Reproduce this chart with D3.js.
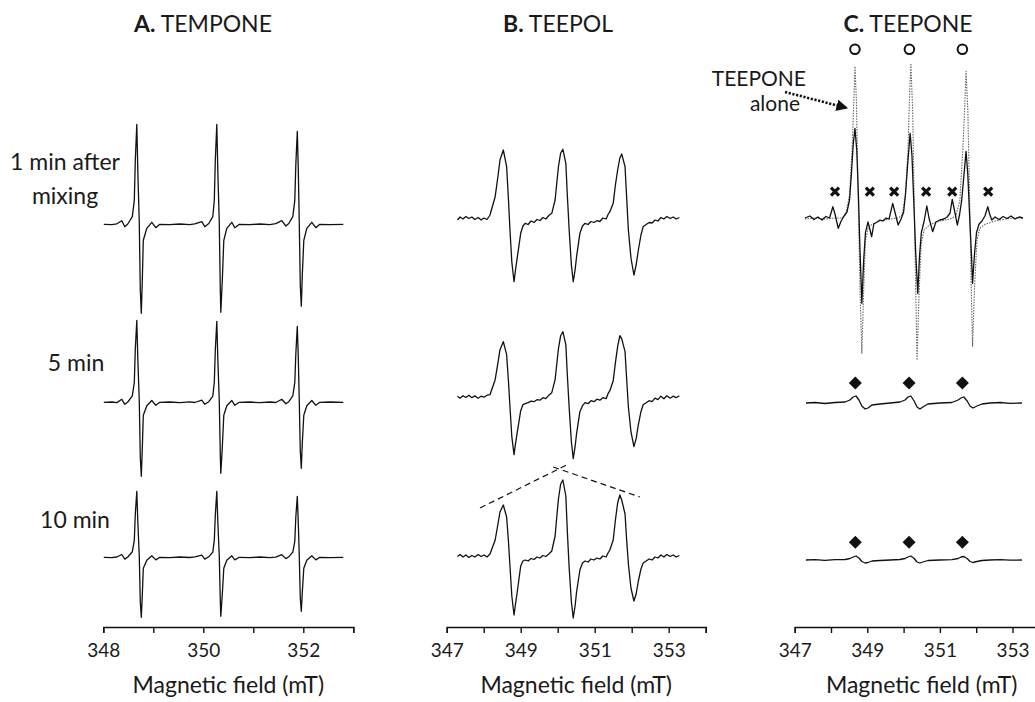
<!DOCTYPE html>
<html>
<head>
<meta charset="utf-8">
<script src="https://cdn.jsdelivr.net/npm/d3@7"></script>
<style>
  body { margin: 0; background: #fff; }
  text { font-family: Lato, "Open Sans", sans-serif; fill: #1a1a1a; }
</style>
</head>
<body>
<svg id="epr" width="1035" height="702"></svg>
<script>
//// data (field in mT, intensity in a.u.)

// panel A : TEMPONE, shared field sampling
var fieldA = [348.01,348.17,348.27,348.37,348.43,348.49,348.58,348.62,348.64,348.67,348.69,348.72,348.74,348.76,348.78,348.80,348.87,348.97,349.05,349.13,
  349.33,349.53,349.73,349.83,
  349.97,350.03,350.11,350.19,350.22,350.24,350.27,350.29,350.32,350.34,350.35,350.38,350.41,350.47,350.57,350.63,350.72,
  350.93,351.13,351.33,351.45,
  351.57,351.65,351.71,351.79,351.83,351.85,351.88,351.90,351.92,351.94,351.96,351.98,352.01,352.07,352.17,352.25,352.33,
  352.53,352.80];
var tempone1 = [0,-0.3,0.5, 3.6,-2.4,0.3,7.6,24,64,100,54,0,-66,-89,-56,-16,-4,2,-3.4,0,
  -0.4,0.3,-0.3,0.5,
  2.6,-2.4,0.8,7.6,24,64,100,54,0,-66,-88,-56,-16,-4,2,-3.4,0,
  -0.4,0.3,-0.3,0.6,
  3.6,-1.7,0.8,7.6,24,59,93,54,0,-61,-82,-51,-16,-4,2,-3.4,0,
  -0.4,0];
var tempone5 = [0,0.3,-0.3, 3,-2,0.3,6.5,20,53,82,44,0,-55,-74,-46,-13,-3.5,1.8,-3,0,
  0.3,-0.3,0.4,-0.2,
  2.2,-2,0.6,6.2,20,52,81,44,0,-53,-71,-45,-13,-3.5,1.8,-3,0,
  0.3,-0.4,0.3,-0.2,
  3,-1.5,0.6,6.5,20,48,76,44,0,-49,-66,-41,-13,-3.5,1.8,-3,0,
  0.3,0];
var tempone10 = [0,-0.3,0.3, 2.8,-1.8,0.3,5.5,17,43,66,36,0,-45,-60,-38,-11,-3,1.5,-2.6,0,
  -0.3,0.3,-0.2,0.4,
  2.2,-1.8,0.5,5.2,17,42,66,36,0,-44,-59,-37,-11,-3,1.5,-2.6,0,
  -0.3,0.3,-0.3,0.2,
  2.6,-1.3,0.5,5.2,16,40,61,34,0,-41,-54,-35,-11,-3,1.5,-2.6,0,
  -0.3,0];

// panel B : TEEPOL
var fieldB = [347.29,347.36,347.44,347.52,347.60,347.68,347.76,347.85,347.93,348.01,348.09,348.17,
  348.31,348.39,348.44,348.53,348.62,348.67,348.71,348.76,348.82,348.86,348.91,349.00,349.06,349.12,
  349.20,349.28,349.36,349.44,349.52,349.60,349.68,349.76,
  349.84,349.93,349.97,350.02,350.08,350.14,350.22,350.26,350.31,350.37,350.42,350.47,350.51,350.60,350.67,350.74,
  350.82,350.90,350.98,351.06,351.14,351.22,351.31,
  351.36,351.41,351.50,351.56,351.62,351.68,351.73,351.82,351.86,351.91,351.98,352.06,352.12,352.18,352.25,352.31,
  352.39,352.47,352.55,352.63,352.71,352.79,352.87,352.95,353.04,353.12,353.20,353.29];
var teepol1 = [-1.7,1.3,-0.7,1.8,-0.2,1.3,-1.2,0.8,-1.7,0.3,-1.2,3.3,
  21.6,43.3,58.3,68.3,51.6,18.3,-11.7,-43.7,-63.4,-51.7,-38.4,-15,-7.7,-5,
  -6.2,-2.7,-4.2,-1.2,-2.2,0.8,-0.7,2.8,
  5,18.3,33.3,51.6,65.3,69,55,23.3,-11.7,-46.7,-63.4,-51.7,-38.4,-15,-7.7,-5,
  -6.2,-3.2,-4.2,-2.4,-3.2,0.3,-0.7,
  3.8,6.6,15,33.3,48.3,60.3,64.3,51.6,23.3,-11.7,-39.7,-56.7,-46.7,-31.7,-16.7,-8.4,
  -6.2,-4.2,-4.7,-1.7,-2.7,0.8,-0.7,1.8,-0.2,1.3,-0.7,0.8];
var teepol5 = [0.5,-1.5,1,-0.8,1.5,-1,0.8,-1.5,0.5,-0.5,1.5,2,
  17,35,47,55,42,15,-10,-40,-58,-47,-35,-14,-8,-7,
  -6,-4.5,-5,-3,-3.5,-1,-2,1.5,
  4,17,31,48,61,65,52,22,-11,-45,-62,-50,-37,-15,-9,-6,
  -7,-4,-5,-2.5,-3.5,-1,-2,
  3,6,16,34,50,61,58,45,20,-10,-35,-50,-42,-28,-15,-8,
  -6,-4,-5,-1.5,-3,0.5,-2,1,-1.5,0.5,-1,1];
var teepol10 = [-0.5,1.5,-1,1,-1.5,0.5,-1,1.5,-0.5,1,-1,2,
  16,33,44,51,39,14,-10,-40,-59,-48,-35,-10,-5,-4,
  -5,-2.5,-3.5,-1,-2,0.5,-0.5,2,
  5,20,37,57,72,76,60,25,-12,-46,-62,-50,-36,-14,-7,-5,
  -6,-3,-4,-2,-3,0,-1,
  3,6,16,36,53,61,56,42,18,-8,-32,-45,-38,-25,-13,-7,
  -5,-3,-4,-1,-2,1,-1,1.5,-0.5,1,-1,0.5];
// dashed guides over the 10 min TEEPOL spectrum
var guideLeft = [[347.90, 48], [350.24, 91]];
var guideRight = [[349.88, 89], [352.22, 59]];

// panel C : TEEPONE
var teeponeAlone = [[347.28,-0.7],[347.56,0.3],[347.83,-0.7],[348.11,0.3],[348.30,0.3],[348.41,4.3],[348.51,23],
  [348.58,68],[348.63,118],[348.66,152],[348.70,118],[348.75,18],[348.80,-72],[348.85,-135],[348.90,-72],
  [348.95,-22],[349.02,-10],[349.13,-6],[349.35,-2.7],[349.63,-0.7],[349.85,0.3],[349.96,3.3],[350.05,23],
  [350.12,68],[350.16,118],[350.20,155],[350.25,108],[350.30,-2],[350.34,-82],[350.37,-142],[350.42,-82],
  [350.48,-27],[350.56,-12],[350.73,-6],[351.00,-2.7],[351.28,-0.7],[351.44,2.3],[351.55,18],[351.63,68],
  [351.68,108],[351.72,147],[351.77,108],[351.83,-2],[351.87,-82],[351.90,-128],[351.95,-72],[352.02,-22],
  [352.10,-10],[352.24,-6],[352.52,-2.7],[352.80,-0.7],[353.07,0.3],[353.29,0.3]];
var teeponeMix1 = [[347.28,0.3],[347.42,2.3],[347.53,-1.2],[347.64,1.3],[347.75,-1.7],[347.86,1.8],[347.96,0.3],
  [348.05,11.6],[348.11,4.3],[348.20,-10],[348.28,-2.7],[348.36,2.3],[348.44,6.3],[348.51,18.3],[348.56,43],
  [348.61,73],[348.66,90],[348.71,68],[348.76,18],[348.79,-22],[348.85,-85],[348.90,-42],[348.95,-14],
  [349.02,-3.7],[349.12,-18.4],[349.18,-5.7],[349.27,-3.7],[349.35,-1.7],[349.43,-2.7],[349.52,0.3],
  [349.60,-0.7],[349.70,15],[349.76,6.3],[349.85,-6.7],[349.93,-0.7],[350.00,6.3],[350.05,23],[350.11,53],
  [350.18,85],[350.23,63],[350.29,8],[350.33,-32],[350.39,-75],[350.44,-37],[350.49,-14],[350.56,-3.7],
  [350.64,12.3],[350.70,0.3],[350.80,-13.4],[350.89,-3.7],[351.00,-1.7],[351.11,-0.7],[351.20,1.3],
  [351.28,5.3],[351.34,19],[351.40,8.3],[351.48,-6.7],[351.54,3.3],[351.60,18],[351.65,38],[351.72,67],
  [351.77,43],[351.83,-6.7],[351.87,-37],[351.90,-65],[351.95,-37],[352.01,-14],[352.08,-5.7],[352.16,-2.7],
  [352.24,2.3],[352.32,11.6],[352.37,4.3],[352.43,-1.7],[352.52,1.3],[352.63,-1.2],[352.74,1.8],
  [352.85,-0.2],[352.96,2.3],[353.07,-0.7],[353.18,1.3],[353.29,0.3]];
var fieldC = [347.31,347.56,347.83,348.11,348.39,348.52,348.61,348.69,348.77,348.85,348.94,349.02,349.13,349.35,349.63,
  349.90,350.04,350.12,350.20,350.29,350.37,350.45,350.53,350.67,351.00,351.33,351.50,351.58,351.66,351.75,
  351.83,351.91,352.02,352.16,352.38,352.66,352.93,353.26];
var teepone5 = [0,0.5,-0.5,0.5,1,3,6,7,3,-3,-6,-5,-2,-1,0,1,3,6,7,2,-4,-6,-4,-1,0,0.5,3,5,6,2,-3,-5,-3,-1,0,0.5,-0.3,0];
var teepone10 = [0,0.3,-0.3,0.3,0.5,1.5,3,4,2,-1.5,-3,-2.5,-1,-0.5,0,0.5,1.5,3,4,1.5,-2,-3,-2,-0.5,0,0.3,1.5,3,3.5,1.5,-1.5,-2.5,-1.5,-0.5,0,0.3,-0.2,0];
// marker positions (field) and heights (a.u. above the trace baseline)
var circleFields = [348.66, 350.16, 351.62];
var crossFields = [348.11, 349.07, 349.74, 350.62, 351.34, 352.33];
var diamondFields = [348.67, 350.15, 351.62];

// axis ticks
var ticksA = [348, 349, 350, 351, 352, 353];
var ticksBC = [347, 348, 349, 350, 351, 352, 353, 354];

var rowLabels = [
  {lines: ["1 min after", "mixing"], x: 65, y: 170},
  {lines: ["5 min"], x: 76, y: 371},
  {lines: ["10 min"], x: 75, y: 528}
];

//// drawing
var svg = d3.select("svg#epr");

var xA = d3.scaleLinear().domain([348, 353]).range([103.3, 353.3]);
var xB = d3.scaleLinear().domain([347, 354]).range([446.7, 705.7]);
var xC = d3.scaleLinear().domain([347, 354]).range([794.7, 1048.8]);

function rowScale(base) {
  return d3.scaleLinear().domain([-100, 100]).range([base + 100, base - 100]);
}
var yA = [rowScale(224.3), rowScale(402.3), rowScale(557.3)];
var yB = [rowScale(218.3), rowScale(396.7), rowScale(556)];
var yC = [rowScale(218.3), rowScale(403), rowScale(560)];

function zip(f, v) { return f.map(function(d, i) { return [d, v[i]]; }); }

function trace(data, x, y) {
  return svg.append("path")
    .datum(data)
    .attr("fill", "none")
    .attr("stroke", "#111")
    .attr("stroke-width", 1.3)
    .attr("stroke-linejoin", "round")
    .attr("d", d3.line().x(function(d) { return x(d[0]); }).y(function(d) { return y(d[1]); }));
}

// A
[tempone1, tempone5, tempone10].forEach(function(s, i) { trace(zip(fieldA, s), xA, yA[i]); });
// B
[teepol1, teepol5, teepol10].forEach(function(s, i) { trace(zip(fieldB, s), xB, yB[i]); });
[guideLeft, guideRight].forEach(function(g) {
  trace(g, xB, yB[2]).attr("stroke-width", 1.2).attr("stroke-dasharray", "6,4");
});
// C
trace(teeponeAlone, xC, yC[0]).attr("stroke", "#666").attr("stroke-width", 1.1).attr("stroke-dasharray", "1.5,1.2");
trace(teeponeMix1, xC, yC[0]);
trace(zip(fieldC, teepone5), xC, yC[1]);
trace(zip(fieldC, teepone10), xC, yC[2]);

// markers
svg.selectAll("circle.mk")
  .data(circleFields)
  .enter().append("circle")
  .attr("cx", function(d) { return xC(d); })
  .attr("cy", yC[0](169))
  .attr("r", 4.8)
  .attr("fill", "#fff")
  .attr("stroke", "#111")
  .attr("stroke-width", 2);

svg.selectAll("path.cross")
  .data(crossFields)
  .enter().append("path")
  .attr("class", "cross")
  .attr("transform", function(d) { return "translate(" + xC(d) + "," + yC[0](26.6) + ")"; })
  .attr("d", "M-4,-4L4,4M-4,4L4,-4")
  .attr("stroke", "#111")
  .attr("stroke-width", 3.2);

[[yC[1], 20], [yC[2], 17.7]].forEach(function(r) {
  svg.selectAll(null)
    .data(diamondFields)
    .enter().append("path")
    .attr("transform", function(d) { return "translate(" + xC(d) + "," + r[0](r[1]) + ")"; })
    .attr("d", "M0,-6.5L6.5,0L0,6.5L-6.5,0Z")
    .attr("fill", "#111");
});

// "TEEPONE alone" annotation with dotted arrow
svg.append("defs").append("marker")
  .attr("id", "head")
  .attr("viewBox", "0 0 10 10")
  .attr("refX", 9).attr("refY", 5)
  .attr("markerWidth", 4.5).attr("markerHeight", 4.5)
  .attr("markerUnits", "strokeWidth")
  .attr("orient", "auto")
  .append("path").attr("d", "M0,0L10,5L0,10Z").attr("fill", "#111");
svg.append("line")
  .attr("x1", 785).attr("y1", 92)
  .attr("x2", 847).attr("y2", 108)
  .attr("stroke", "#111")
  .attr("stroke-width", 2.6)
  .attr("stroke-dasharray", "2.2,1.6")
  .attr("marker-end", "url(#head)");
svg.append("text").attr("x", 806).attr("y", 86).attr("text-anchor", "end")
  .style("font-size", "21px").text("TEEPONE");
svg.append("text").attr("x", 800).attr("y", 111).attr("text-anchor", "end")
  .style("font-size", "21px").text("alone");

// axes
function drawAxis(x, ticks, fmt, cx) {
  var ax = d3.axisBottom(x)
    .tickValues(ticks)
    .tickFormat(fmt)
    .tickSize(6)
    .tickSizeOuter(6)
    .tickPadding(11);
  var g = svg.append("g").attr("transform", "translate(0,627)").call(ax);
  g.selectAll("path, line").attr("stroke", "#111").attr("stroke-width", 1.4);
  g.selectAll("text").style("font-size", "19px").style("font-family", "Lato, sans-serif").attr("fill", "#1a1a1a");
  svg.append("text")
    .attr("x", cx).attr("y", 693)
    .attr("text-anchor", "middle")
    .style("font-size", "23px")
    .text("Magnetic field (mT)");
}
drawAxis(xA, ticksA, function(d) { return d % 2 === 0 ? d : ""; }, 228.3);
drawAxis(xB, ticksBC, function(d) { return d % 2 === 1 ? d : ""; }, 576.2);
drawAxis(xC, ticksBC, function(d) { return d % 2 === 1 ? d : ""; }, 921.7);

// panel titles
var titles = [["A.", " TEMPONE", 203], ["B.", " TEEPOL", 558], ["C.", " TEEPONE", 908]];
titles.forEach(function(t) {
  var tx = svg.append("text").attr("x", t[2]).attr("y", 32)
    .attr("text-anchor", "middle").style("font-size", "23px");
  tx.append("tspan").style("font-weight", "bold").text(t[0]);
  tx.append("tspan").text(t[1]);
});

// row labels
rowLabels.forEach(function(r) {
  r.lines.forEach(function(l, i) {
    svg.append("text").attr("x", r.x).attr("y", r.y + i * 34)
      .attr("text-anchor", "middle").style("font-size", "23px").text(l);
  });
});
</script>
</body>
</html>
